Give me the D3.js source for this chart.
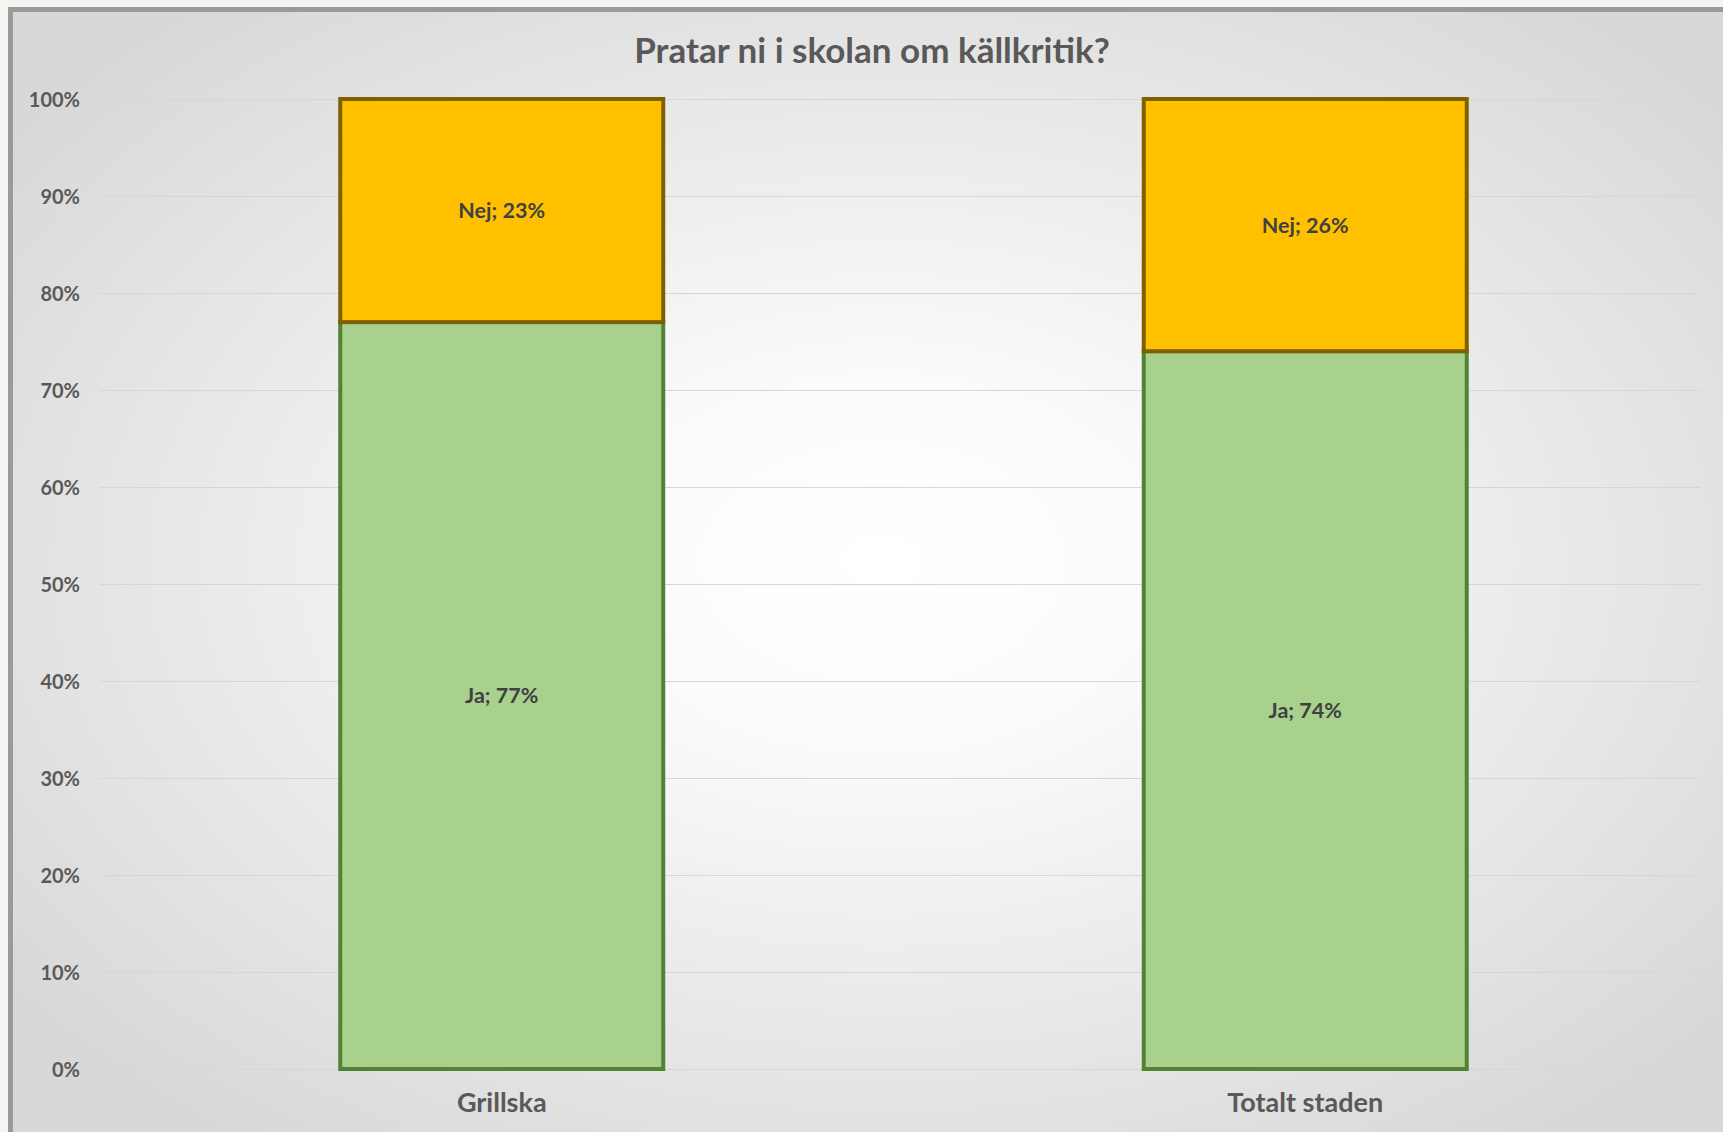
<!DOCTYPE html>
<html><head><meta charset="utf-8">
<script src="https://cdn.jsdelivr.net/npm/d3@7"></script>
<style>html,body{margin:0;padding:0;background:#f4f4f0;overflow:hidden}</style>
</head><body>
<script>
const categories = ["Grillska", "Totalt staden"];
const seriesNames = ["Ja", "Nej"];
const jaValues = [0.77, 0.74];
const nejValues = [0.23, 0.26];
const yTicks = [0, 0.1, 0.2, 0.3, 0.4, 0.5, 0.6, 0.7, 0.8, 0.9, 1.0];
const title = "Pratar ni i skolan om källkritik?";

const W = 1723, H = 1132;
const svg = d3.select("body").append("svg").attr("width", W).attr("height", H);
const defs = svg.append("defs");
const grad = defs.append("radialGradient").attr("id", "bg")
  .attr("cx", "50%").attr("cy", "48%").attr("r", "62%");
grad.append("stop").attr("offset", "0%").attr("stop-color", "#ffffff");
grad.append("stop").attr("offset", "25%").attr("stop-color", "#fbfbfb");
grad.append("stop").attr("offset", "100%").attr("stop-color", "#d8d8d8");

svg.append("rect").attr("x", 10.5).attr("y", 9.5).attr("width", W + 20).attr("height", H + 20)
  .attr("fill", "url(#bg)").attr("stroke", "#9a9a9a").attr("stroke-width", 5);

const font = "Lato, 'Open Sans', sans-serif";

const x = d3.scaleBand().domain(categories).range([100, 1707]).paddingInner(0.598).paddingOuter(0.299);
const y = d3.scaleLinear().domain([0, 1]).range([1069, 99]);

// gridlines
svg.append("g").selectAll("line").data(yTicks).join("line")
  .attr("x1", 100).attr("x2", 1700)
  .attr("y1", d => Math.round(y(d)) + 0.5).attr("y2", d => Math.round(y(d)) + 0.5)
  .attr("stroke", "#d6d6d6").attr("stroke-width", 1.2);

// y axis
const yAxis = d3.axisLeft(y).tickValues(yTicks).tickFormat(d3.format(".0%")).tickSize(0).tickPadding(0);
const yg = svg.append("g").attr("transform", "translate(80,0)").call(yAxis);
yg.select(".domain").remove();
yg.selectAll("text").attr("font-family", font).attr("font-weight", 700)
  .attr("font-size", 20).attr("fill", "#595959").attr("dy", "0.36em");

// x axis
const xAxis = d3.axisBottom(x).tickSize(0).tickPadding(0);
const xg = svg.append("g").attr("transform", "translate(0,1102)").call(xAxis);
xg.select(".domain").remove();
xg.selectAll("text").attr("font-family", font).attr("font-weight", 700)
  .attr("font-size", 27).attr("fill", "#595959").attr("dy", "0.36em");

// stacked data
const rows = categories.map((c, i) => ({cat: c, Ja: jaValues[i], Nej: nejValues[i]}));
const stack = d3.stack().keys(seriesNames)(rows);
const fills = {Ja: "#a9d18e", Nej: "#ffc000"};
const strokes = {Ja: "#548235", Nej: "#7f6000"};

stack.forEach(s => {
  const g = svg.append("g");
  g.selectAll("rect").data(s).join("rect")
    .attr("x", d => x(d.data.cat))
    .attr("width", x.bandwidth())
    .attr("y", d => y(d[1]))
    .attr("height", d => y(d[0]) - y(d[1]))
    .attr("fill", fills[s.key]).attr("stroke", strokes[s.key]).attr("stroke-width", 4);
});
stack.forEach(s => {
  svg.append("g").selectAll("text").data(s).join("text")
    .attr("x", d => x(d.data.cat) + x.bandwidth() / 2)
    .attr("y", d => (y(d[0]) + y(d[1])) / 2)
    .attr("dy", "0.36em")
    .attr("text-anchor", "middle")
    .attr("font-family", font).attr("font-weight", 700).attr("font-size", 21.5)
    .attr("fill", "#404040")
    .text(d => s.key + "; " + d3.format(".0%")(d.data[s.key]));
});

svg.append("text").attr("x", 872).attr("y", 50).attr("dy", "0.36em")
  .attr("text-anchor", "middle").attr("font-family", font).attr("font-weight", 700)
  .attr("font-size", 35).attr("fill", "#595959").text(title);
</script>
</body></html>
